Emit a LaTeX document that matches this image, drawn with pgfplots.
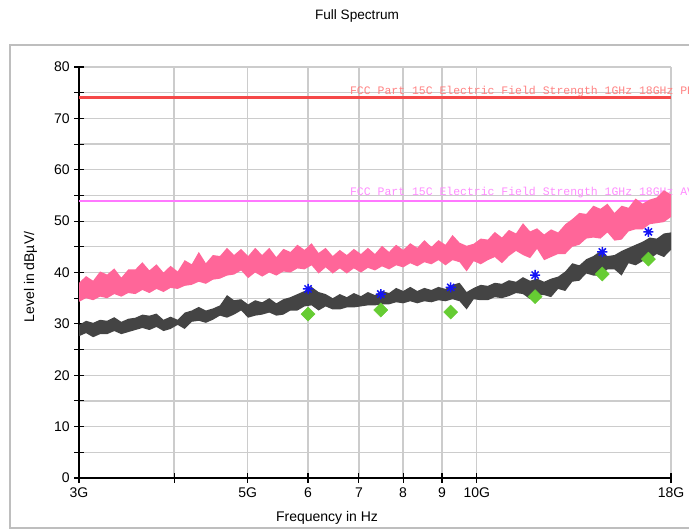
\documentclass[border=0pt]{standalone}
\usepackage{fontspec}
\setmainfont{Liberation Sans}
\newfontfamily\fccfont{Liberation Mono}
\usepackage{pgfplots}
\pgfplotsset{compat=1.18}
\definecolor{pkpink}{RGB}{255,102,153}
\definecolor{avgray}{RGB}{68,68,68}
\definecolor{limred}{RGB}{245,72,72}
\definecolor{limredtxt}{RGB}{255,130,130}
\definecolor{limmag}{RGB}{255,120,255}
\definecolor{limmagtxt}{RGB}{255,140,255}
\definecolor{gridgray}{RGB}{204,204,204}
\definecolor{framegray}{RGB}{190,190,190}
\definecolor{pkblue}{RGB}{20,20,245}
\definecolor{avgreen}{RGB}{102,204,51}

% eight-armed star for the peak readings
\pgfdeclareplotmark{star8}{%
  \pgfpathmoveto{\pgfqpoint{0pt}{\pgfplotmarksize}}\pgfpathlineto{\pgfqpoint{0pt}{-\pgfplotmarksize}}%
  \pgfpathmoveto{\pgfqpoint{\pgfplotmarksize}{0pt}}\pgfpathlineto{\pgfqpoint{-\pgfplotmarksize}{0pt}}%
  \pgfpathmoveto{\pgfqpoint{.7071\pgfplotmarksize}{.7071\pgfplotmarksize}}\pgfpathlineto{\pgfqpoint{-.7071\pgfplotmarksize}{-.7071\pgfplotmarksize}}%
  \pgfpathmoveto{\pgfqpoint{-.7071\pgfplotmarksize}{.7071\pgfplotmarksize}}\pgfpathlineto{\pgfqpoint{.7071\pgfplotmarksize}{-.7071\pgfplotmarksize}}%
  \pgfusepathqstroke}

\begin{document}
\begin{tikzpicture}
\useasboundingbox (0,0) rectangle (516.75pt,397.5pt);
\clip (0,0) rectangle (516.75pt,397.5pt);
\draw[framegray, line width=0.9pt] (7.5pt,1.5pt) rectangle (530pt,363.75pt);
\node[font=\fontsize{10.2}{12}\selectfont] at (267.75pt,385.5pt) {Full Spectrum};
\begin{axis}[
  at={(59.25pt,39pt)}, anchor=south west,
  width=444pt, height=308.25pt, scale only axis,
  xmode=log, xmin=3, xmax=18, ymin=0, ymax=80,
  xtick={3,4,5,6,7,8,9,10,18},
  xticklabels={3G,,5G,6,7,8,9,10G,18G},
  ytick={0,5,...,80},
  yticklabels={0,,10,,20,,30,,40,,50,,60,,70,,80},
  ticklabel style={font=\fontsize{10.5}{12}\selectfont},
  axis x line*=bottom, axis y line*=left,
  axis line style={black, line width=0.9pt, -},
  tick align=center, major tick length=7pt,
  tick style={black, line width=0.8pt},
  xmajorgrids, ymajorgrids,
  major grid style={gridgray, line width=0.9pt},
  xlabel={Frequency in Hz}, ylabel={Level in dBµV/},
  label style={font=\fontsize{10.5}{12}\selectfont},
  xlabel style={at={(axis description cs:0.419,-0.097)}, anchor=center},
  ylabel style={at={(axis description cs:-0.082,0.489)}, anchor=center},
  clip=false,
]
% limit lines and their names
\addplot[limred, line width=2.2pt] coordinates {(3,74) (18,74)};
\addplot[limmag, line width=1.4pt] coordinates {(3,54) (18,54)};
\node[anchor=base west, inner sep=0, text=limredtxt, font=\fccfont\fontsize{8.6}{10}\selectfont]
  at (axis cs:6.81,74.6) {FCC Part 15C Electric Field Strength 1GHz 18GHz PK};
\node[anchor=base west, inner sep=0, text=limmagtxt, font=\fccfont\fontsize{8.6}{10}\selectfont]
  at (axis cs:6.81,54.9) {FCC Part 15C Electric Field Strength 1GHz 18GHz AV};

% peak trace: upper edge, then lower edge backwards
\addplot[draw=none, fill=pkpink] coordinates {
(3.000,38.0) (3.065,39.3) (3.131,38.4) (3.198,40.2) (3.267,39.6) (3.338,40.8) (3.410,39.0) (3.483,40.6)
(3.558,40.6) (3.635,42.0) (3.713,40.4) (3.793,41.6) (3.875,40.0) (3.958,41.3) (4.044,40.2) (4.131,42.4)
(4.220,41.6) (4.311,44.0) (4.404,41.8) (4.499,43.4) (4.596,43.2) (4.695,44.8) (4.796,43.4) (4.900,44.6)
(5.005,43.2) (5.113,44.8) (5.223,43.4) (5.336,44.8) (5.451,43.0) (5.569,44.6) (5.689,44.0) (5.811,45.4)
(5.937,44.4) (6.065,45.7) (6.195,43.8) (6.329,44.8) (6.466,43.2) (6.605,44.4) (6.748,43.4) (6.893,44.6)
(7.042,43.6) (7.193,44.8) (7.348,43.6) (7.507,45.2) (7.669,44.0) (7.834,45.4) (8.003,44.4) (8.176,45.7)
(8.352,44.8) (8.532,46.3) (8.716,45.0) (8.904,46.3) (9.096,45.4) (9.292,47.3) (9.493,45.8) (9.697,45.2)
(9.906,45.6) (10.12,46.6) (10.34,46.4) (10.56,47.9) (10.79,46.8) (11.02,48.3) (11.26,47.6) (11.50,49.6)
(11.75,48.0) (12.00,48.6) (12.26,47.4) (12.52,48.4) (12.79,47.8) (13.07,49.4) (13.35,50.4) (13.64,51.6)
(13.93,51.4) (14.23,53.0) (14.54,52.4) (14.85,53.4) (15.17,51.6) (15.50,53.0) (15.83,52.6) (16.17,54.4)
(16.52,53.4) (16.88,54.2) (17.24,54.6) (17.62,56.0) (18.00,55.2)
(18.00,50.8) (17.62,49.8) (17.24,49.6) (16.88,49.4) (16.52,48.4) (16.17,48.4) (15.83,48.0) (15.50,46.4)
(15.17,46.2) (14.85,47.8) (14.54,46.6) (14.23,46.8) (13.93,46.6) (13.64,45.4) (13.35,45.0) (13.07,43.6)
(12.79,43.6) (12.52,43.0) (12.26,42.4) (12.00,44.6) (11.75,42.8) (11.50,43.4) (11.26,44.2) (11.02,43.2)
(10.79,41.8) (10.56,43.0) (10.34,42.4) (10.12,41.6) (9.906,42.2) (9.697,40.2) (9.493,42.0) (9.292,42.4)
(9.096,41.4) (8.904,42.4) (8.716,41.6) (8.532,42.0) (8.352,41.2) (8.176,41.8) (8.003,41.0) (7.834,41.4)
(7.669,40.6) (7.507,41.2) (7.348,40.4) (7.193,40.9) (7.042,40.0) (6.893,40.8) (6.748,39.8) (6.605,40.8)
(6.466,39.8) (6.329,41.0) (6.195,39.8) (6.065,41.4) (5.937,40.6) (5.811,40.8) (5.689,40.0) (5.569,40.2)
(5.451,39.4) (5.336,40.0) (5.223,39.2) (5.113,40.0) (5.005,38.9) (4.900,40.4) (4.796,39.6) (4.695,39.4)
(4.596,38.8) (4.499,38.6) (4.404,37.8) (4.311,38.2) (4.220,37.6) (4.131,37.4) (4.044,36.8) (3.958,37.0)
(3.875,36.2) (3.793,36.8) (3.713,36.0) (3.635,36.6) (3.558,35.8) (3.483,36.0) (3.410,35.3) (3.338,35.8)
(3.267,35.0) (3.198,35.3) (3.131,34.6) (3.065,35.0) (3.000,34.3)
} -- cycle;

% average trace
\addplot[draw=none, fill=avgray] coordinates {
(3.000,29.8) (3.065,30.6) (3.131,30.2) (3.198,30.8) (3.267,30.6) (3.338,31.3) (3.410,30.4) (3.483,31.0)
(3.558,31.2) (3.635,31.8) (3.713,31.6) (3.793,32.0) (3.875,30.8) (3.958,31.4) (4.044,30.8) (4.131,32.2)
(4.220,32.6) (4.311,33.3) (4.404,32.6) (4.499,33.0) (4.596,33.6) (4.695,35.6) (4.796,34.6) (4.900,34.8)
(5.005,33.8) (5.113,34.6) (5.223,34.2) (5.336,35.0) (5.451,34.0) (5.569,34.8) (5.689,35.2) (5.811,35.8)
(5.937,36.4) (6.065,37.2) (6.195,36.2) (6.329,35.8) (6.466,35.0) (6.605,35.8) (6.748,35.2) (6.893,36.0)
(7.042,35.4) (7.193,36.2) (7.348,35.6) (7.507,36.4) (7.669,36.0) (7.834,37.0) (8.003,36.4) (8.176,37.2)
(8.352,36.4) (8.532,37.0) (8.716,36.6) (8.904,37.2) (9.096,36.8) (9.292,37.6) (9.493,38.0) (9.697,36.2)
(9.906,37.0) (10.12,37.6) (10.34,37.4) (10.56,38.0) (10.79,37.8) (11.02,38.5) (11.26,38.2) (11.50,39.1)
(11.75,38.4) (12.00,38.8) (12.26,38.2) (12.52,38.8) (12.79,39.2) (13.07,40.2) (13.35,41.8) (13.64,41.4)
(13.93,42.6) (14.23,43.2) (14.54,44.2) (14.85,43.2) (15.17,43.4) (15.50,44.2) (15.83,44.8) (16.17,45.4)
(16.52,46.0) (16.88,46.8) (17.24,46.6) (17.62,47.6) (18.00,47.8)
(18.00,44.4) (17.62,43.0) (17.24,43.6) (16.88,42.6) (16.52,42.2) (16.17,41.4) (15.83,41.8) (15.50,39.4)
(15.17,40.6) (14.85,40.6) (14.54,39.4) (14.23,39.4) (13.93,39.8) (13.64,38.4) (13.35,38.2) (13.07,36.4)
(12.79,36.8) (12.52,35.2) (12.26,35.6) (12.00,35.6) (11.75,34.8) (11.50,35.8) (11.26,36.0) (11.02,35.4)
(10.79,35.0) (10.56,35.2) (10.34,34.6) (10.12,34.6) (9.906,34.8) (9.697,32.8) (9.493,34.4) (9.292,34.8)
(9.096,34.4) (8.904,34.6) (8.716,34.2) (8.532,34.4) (8.352,34.0) (8.176,34.4) (8.003,34.0) (7.834,34.2)
(7.669,33.8) (7.507,33.8) (7.348,33.6) (7.193,33.6) (7.042,33.4) (6.893,33.2) (6.748,33.2) (6.605,32.8)
(6.466,32.8) (6.329,33.4) (6.195,32.6) (6.065,33.6) (5.937,33.4) (5.811,32.6) (5.689,32.6) (5.569,31.8)
(5.451,31.6) (5.336,32.2) (5.223,31.8) (5.113,31.6) (5.005,31.2) (4.900,32.6) (4.796,31.8) (4.695,31.2)
(4.596,31.6) (4.499,30.8) (4.404,30.2) (4.311,30.6) (4.220,30.4) (4.131,29.0) (4.044,29.8) (3.958,29.0)
(3.875,28.6) (3.793,29.4) (3.713,28.8) (3.635,29.2) (3.558,28.8) (3.483,28.4) (3.410,28.0) (3.338,28.6)
(3.267,28.0) (3.198,28.0) (3.131,27.4) (3.065,28.2) (3.000,27.6)
} -- cycle;

% final measurements
\addplot[only marks, mark=square*, mark size=3.7pt, color=avgreen, mark options={rotate=45, draw=avgreen, fill=avgreen}]
  coordinates {(6.00,31.9) (7.48,32.7) (9.24,32.3) (11.93,35.3) (14.62,39.7) (16.81,42.6)};
\addplot[only marks, mark=star8, mark size=3.8pt, color=pkblue, mark options={line width=1.1pt}]
  coordinates {(6.00,36.8) (7.48,35.8) (9.24,37.1) (11.93,39.5) (14.62,44.0) (16.81,47.9)};
\end{axis}
\end{tikzpicture}
\end{document}
